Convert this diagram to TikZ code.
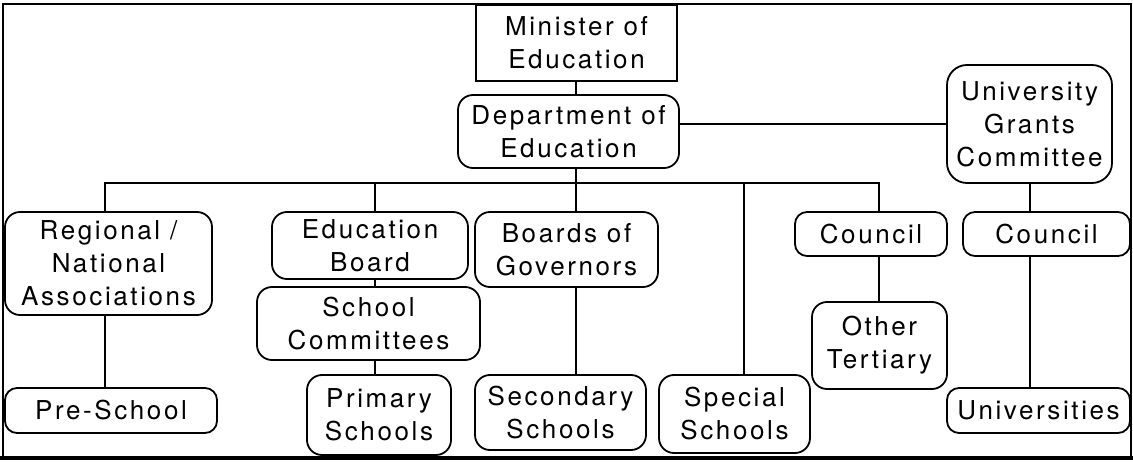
\documentclass[tikz,border=0pt]{standalone}
\usepackage{fontspec}
\setmainfont{TeX Gyre Heros}[LetterSpace=10]
\begin{document}
\begin{tikzpicture}[x=1pt,y=-1pt,line width=1.8pt,
  box/.style={draw,rounded corners=15pt,inner sep=0pt,align=center,
    font=\fontsize{26}{33}\selectfont},
  link/.style={draw,line width=1.8pt}]
\useasboundingbox (0,0) rectangle (1133,462);
% outer frame
\draw (3,4) rectangle (1131,458);
\draw[line width=4pt] (0,458) -- (1133,458);

% column positions and the distribution bus
\coordinate (bus) at (0,183);
\coordinate (cA) at (105,0);
\coordinate (cB) at (375,0);
\coordinate (cC) at (576,0);
\coordinate (cD) at (744,0);
\coordinate (cE) at (879,0);
\coordinate (cF) at (1030,0);

% top of the hierarchy
\node[box,rounded corners=0pt,minimum width=201pt,minimum height=76pt] (min) at (576.5,43) {Minister of\\Education};
\node[box,minimum width=221pt,minimum height=73pt] (dept) at (568.5,131.5) {Department of\\Education};
\node[box,rounded corners=20pt,minimum width=165pt,minimum height=118pt] (ugc) at (1029.5,124) {University\\Grants\\Committee};

% second level
\node[box,minimum width=207pt,minimum height=103pt] (reg) at (108.5,263.5) {Regional /\\National\\Associations};
\node[box,minimum width=196pt,minimum height=67pt] (eb) at (370,245.5) {Education\\Board};
\node[box,minimum width=223pt,minimum height=73pt] (sc) at (368.5,323.5) {School\\Committees};
\node[box,minimum width=183pt,minimum height=75pt] (bog) at (566.5,249.5) {Boards of\\Governors};
\node[box,rounded corners=12pt,minimum width=152pt,minimum height=44pt] (c1) at (871,234) {Council};
\node[box,minimum width=135pt,minimum height=87pt] (ot) at (879.5,345.5) {Other\\Tertiary};
\node[box,rounded corners=12pt,minimum width=167pt,minimum height=44pt] (c2) at (1046.5,234) {Council};

% institutions
\node[box,rounded corners=12pt,minimum width=212pt,minimum height=45pt] (pre) at (111,410.5) {Pre-School};
\node[box,minimum width=144pt,minimum height=80pt] (prim) at (379,415) {Primary\\Schools};
\node[box,minimum width=171pt,minimum height=75pt] (sec) at (560.5,412.5) {Secondary\\Schools};
\node[box,minimum width=151pt,minimum height=78pt] (spec) at (734.5,414) {Special\\Schools};
\node[box,rounded corners=12pt,minimum width=183pt,minimum height=45pt] (uni) at (1038.5,410.5) {Universities};

% connectors
\draw[link] (min.south -| cC) -- (dept.north -| cC);
\draw[link] (dept.east |- ugc.west) -- (ugc.west);
\draw[link] (reg.north -| cA) -- (cA |- bus) -- (cE |- bus) -- (c1.north -| cE);
\draw[link] (eb.north -| cB) -- (cB |- bus);
\draw[link] (dept.south -| cC) -- (bog.north -| cC);
\draw[link] (spec.north -| cD) -- (cD |- bus);
\draw[link] (reg.south -| cA) -- (pre.north -| cA);
\draw[link] (eb.south -| cB) -- (sc.north -| cB);
\draw[link] (sc.south -| cB) -- (prim.north -| cB);
\draw[link] (bog.south -| cC) -- (sec.north -| cC);
\draw[link] (c1.south -| cE) -- (ot.north -| cE);
\draw[link] (ugc.south -| cF) -- (c2.north -| cF);
\draw[link] (c2.south -| cF) -- (uni.north -| cF);
\end{tikzpicture}
\end{document}
